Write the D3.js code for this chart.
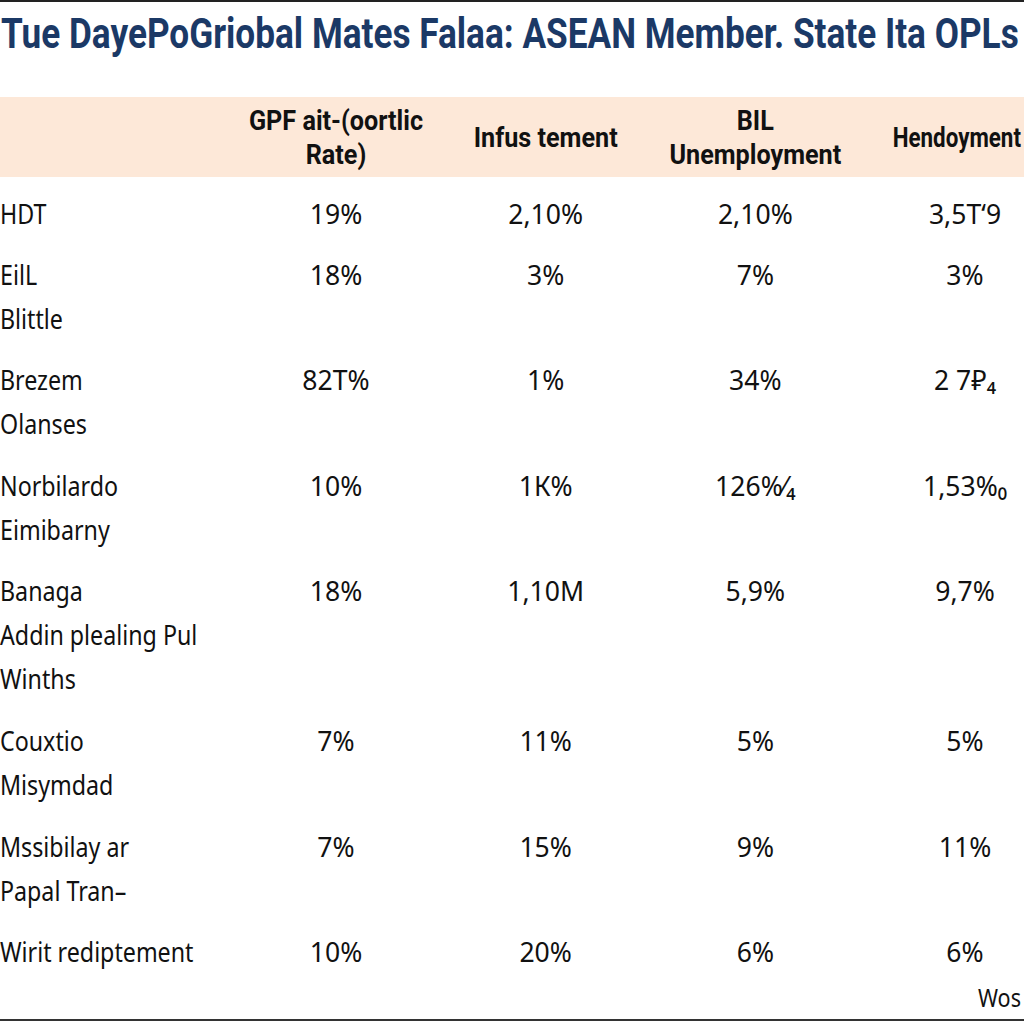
<!DOCTYPE html>
<html><head><meta charset="utf-8">
<script src="https://cdn.jsdelivr.net/npm/d3@7"></script>
<style>html,body{margin:0;padding:0;background:#fff;overflow:hidden}</style>
</head><body>
<svg id="c" width="1024" height="1024"></svg>
<script>
const title = "Tue DayePoGriobal Mates Falaa: ASEAN Member. State Ita OPLs";
const columns = [
  ["GPF ait-(oortlic", "Rate)"],
  ["Infus tement"],
  ["BIL", "Unemployment"],
  ["Hendoyment"]
];
const rowLabels = [
  ["HDT"],
  ["EilL", "Blittle"],
  ["Brezem", "Olanses"],
  ["Norbilardo", "Eimibarny"],
  ["Banaga", "Addin plealing Pul", "Winths"],
  ["Couxtio", "Misymdad"],
  ["Mssibilay ar", "Papal Tran–"],
  ["Wirit rediptement"]
];
const gdpRate     = ["19%", "18%", "82T%", "10%", "18%", "7%", "7%", "10%"];
const investment  = ["2,10%", "3%", "1%", "1К%", "1,10M", "11%", "15%", "20%"];
const unemploy    = ["2,10%", "7%", "34%", "126%⁄₄", "5,9%", "5%", "9%", "6%"];
const hendoyment  = ["3,5T‘9", "3%", "2 7₽₄", "1,53%₀", "9,7%", "5%", "11%", "6%"];
const footer = "Wos";

const svg = d3.select("#c");
const W = 1024, H = 1024;
const series = [gdpRate, investment, unemploy, hendoyment];

svg.append("rect").attr("x",0).attr("y",0).attr("width",W).attr("height",2).attr("fill","#222");
svg.append("rect").attr("x",0).attr("y",1019).attr("width",W).attr("height",2).attr("fill","#333");

const tt = svg.append("text").text(title)
  .attr("font-family","Roboto, 'Noto Sans', sans-serif").attr("font-weight",700)
  .attr("font-size",42).attr("fill","#1b3966");
const tw = tt.node().getBBox().width;
tt.attr("transform",`translate(1,48) scale(${1018/tw},1)`);

svg.append("rect").attr("x",0).attr("y",97).attr("width",W).attr("height",80).attr("fill","#fde8d8");

const x = d3.scalePoint().domain(d3.range(columns.length)).range([336, 965]);

function cText(g, str, cx, cy, opts){
  const t = g.append("text").text(str)
   .attr("text-anchor",opts.anchor||"middle")
   .attr("font-family",opts.family||"'Noto Sans', sans-serif")
   .attr("font-weight",opts.weight||400)
   .attr("font-size",opts.size).attr("fill",opts.fill||"#111");
  let sx = opts.sx;
  const w = t.node().getBBox().width * sx;
  const anchor = opts.anchor||"middle";
  const right = anchor==="middle" ? cx + w/2 : cx + w;
  if (right > W - 3) {
    const left = anchor==="middle" ? cx - w/2 : cx;
    const avail = W - 3 - left;
    sx = sx * avail / w;
    t.attr("text-anchor","start");
    cx = left;
  }
  t.attr("transform",`translate(${cx},${cy}) scale(${sx},1)`);
}

const hdr = svg.append("g");
const headerMid = 137;
columns.forEach((lines,i)=>{
  const n = lines.length, lh = 34;
  lines.forEach((l,j)=>{
    const cy = headerMid + (j-(n-1)/2)*lh + 10;
    cText(hdr, l, x(i), cy, {sx:0.9, size:28, weight:700, family:"Roboto, 'Noto Sans', sans-serif", fill:"#111"});
  });
});

const LINE = 44, GAP = 60;
const rowY = [];
let yCursor = 0;
rowLabels.forEach((lines,i)=>{ rowY.push(yCursor); yCursor += lines.length*LINE + (GAP-LINE); });
const y = d3.scaleLinear().domain([0, rowY[rowY.length-1]]).range([224, 962]);

const body = svg.append("g");
rowLabels.forEach((lines,i)=>{
  lines.forEach((l,j)=>{
    cText(body, l, 0, y(rowY[i]) + j*LINE, {sx:0.83, size:28, anchor:"start"});
  });
  series.forEach((s,k)=>{
    cText(body, s[i], x(k), y(rowY[i]), {sx:0.95, size:28});
  });
});

cText(svg, footer, 978, 1007, {sx:0.9, size:25, anchor:"start"});
</script>
</body></html>
